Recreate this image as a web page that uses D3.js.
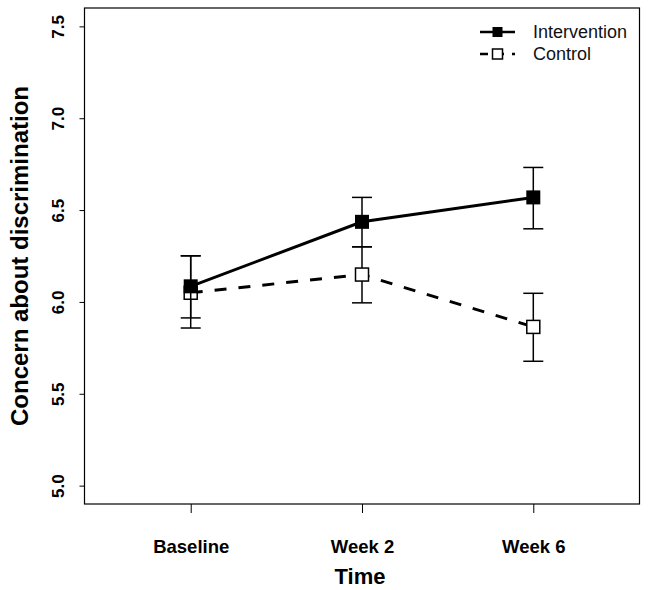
<!DOCTYPE html>
<html>
<head>
<meta charset="utf-8">
<script src="https://cdn.jsdelivr.net/npm/d3@7"></script>
<style>
  html, body { margin: 0; padding: 0; background: #fff; }
  svg { display: block; font-family: "Liberation Sans", Arial, sans-serif; }
</style>
</head>
<body>
<svg id="chart" width="650" height="590"></svg>
<script>
// ---- data ----
const categories = ["Baseline", "Week 2", "Week 6"];
const seriesNames = ["Intervention", "Control"];
const interventionMean  = [6.085, 6.436, 6.569];
const interventionLower = [5.913, 6.300, 6.398];
const interventionUpper = [6.251, 6.569, 6.732];
const controlMean  = [6.050, 6.149, 5.864];
const controlLower = [5.858, 5.995, 5.677];
const controlUpper = [6.251, 6.300, 6.047];
const yTicks = [5.0, 5.5, 6.0, 6.5, 7.0, 7.5];
const xLabel = "Time";
const yLabel = "Concern about discrimination";

// ---- layout ----
const svg = d3.select("#chart");
const L = 84.5, R = 639.5, T = 8, B = 504;
const x = d3.scaleLinear().domain([0.38, 3.62]).range([L, R]);
const y = d3.scaleLinear().domain([4.9, 7.6]).range([B, T]);

const series = [
  { name: seriesNames[1], mean: controlMean, lo: controlLower, hi: controlUpper, filled: false, dash: "12,12", size: 13 },
  { name: seriesNames[0], mean: interventionMean, lo: interventionLower, hi: interventionUpper, filled: true, dash: null, size: 14 }
];

// ---- axes ----
const yAxis = svg.append("g")
  .attr("transform", `translate(${L},0)`)
  .call(d3.axisLeft(y).tickValues(yTicks).tickSize(5).tickFormat(d3.format(".1f")));
yAxis.select(".domain").remove();
yAxis.selectAll(".tick line").attr("stroke", "#000").attr("stroke-width", 1);
yAxis.selectAll(".tick text")
  .attr("transform", "rotate(-90)")
  .attr("text-anchor", "middle")
  .attr("x", 0)
  .attr("y", -26.5)
  .attr("dy", "0.35em")
  .attr("font-size", 17)
  .attr("font-weight", "bold")
  .attr("fill", "#000");

const xAxis = svg.append("g")
  .attr("transform", `translate(0,${B})`)
  .call(d3.axisBottom(x).tickValues([1, 2, 3]).tickSize(9).tickFormat((d, i) => categories[i]));
xAxis.select(".domain").remove();
xAxis.selectAll(".tick line").attr("stroke", "#000").attr("stroke-width", 1);
xAxis.selectAll(".tick text")
  .attr("y", 43)
  .attr("dy", "0.35em")
  .attr("font-size", 18.5)
  .attr("font-weight", "bold")
  .attr("fill", "#000");

// box
svg.append("rect")
  .attr("x", L).attr("y", T).attr("width", R - L).attr("height", B - T)
  .attr("fill", "none").attr("stroke", "#000").attr("stroke-width", 1.2);

// axis titles
svg.append("text")
  .attr("x", (L + R) / 2 - 2).attr("y", 576).attr("dy", "0.35em")
  .attr("text-anchor", "middle").attr("font-size", 22).attr("font-weight", "bold")
  .text(xLabel);
svg.append("text")
  .attr("transform", `translate(20,${(T + B) / 2}) rotate(-90)`)
  .attr("dy", "0.35em")
  .attr("text-anchor", "middle").attr("font-size", 24).attr("font-weight", "bold")
  .text(yLabel);

// ---- series ----
const line = d3.line().x((d, i) => x(i + 1)).y(d => y(d));
series.forEach(s => {
  const g = svg.append("g");
  g.append("path")
    .datum(s.mean)
    .attr("d", line)
    .attr("fill", "none").attr("stroke", "#000").attr("stroke-width", 3)
    .attr("stroke-dasharray", s.dash);
  // error bars
  s.mean.forEach((m, i) => {
    const cx = x(i + 1);
    g.append("line").attr("x1", cx).attr("x2", cx).attr("y1", y(s.lo[i])).attr("y2", y(s.hi[i]))
      .attr("stroke", "#000").attr("stroke-width", 1.5);
    [s.lo[i], s.hi[i]].forEach(v => {
      g.append("line").attr("x1", cx - 10).attr("x2", cx + 10).attr("y1", y(v)).attr("y2", y(v))
        .attr("stroke", "#000").attr("stroke-width", 1.5);
    });
  });
  g.selectAll("rect.pt").data(s.mean).enter().append("rect")
    .attr("class", "pt")
    .attr("x", (d, i) => x(i + 1) - s.size / 2)
    .attr("y", d => y(d) - s.size / 2)
    .attr("width", s.size).attr("height", s.size)
    .attr("fill", s.filled ? "#000" : "#fff")
    .attr("stroke", "#000").attr("stroke-width", s.filled ? 0 : 1.5);
});

// ---- legend ----
const legendItems = [series[1], series[0]];
legendItems.forEach((s, i) => {
  const ly = 32 + i * 22;
  const g = svg.append("g");
  g.append("line").attr("x1", 480).attr("x2", 515).attr("y1", ly).attr("y2", ly)
    .attr("stroke", "#000").attr("stroke-width", 2.5)
    .attr("stroke-dasharray", s.dash ? "8,8" : null);
  g.append("rect").attr("x", 497.5 - 5).attr("y", ly - 5).attr("width", 10).attr("height", 10)
    .attr("fill", s.filled ? "#000" : "#fff")
    .attr("stroke", "#000").attr("stroke-width", s.filled ? 0 : 1.5);
  g.append("text").attr("x", 533).attr("y", ly).attr("dy", "0.35em")
    .attr("font-size", 18).attr("fill", "#111").text(s.name);
});
</script>
</body>
</html>
